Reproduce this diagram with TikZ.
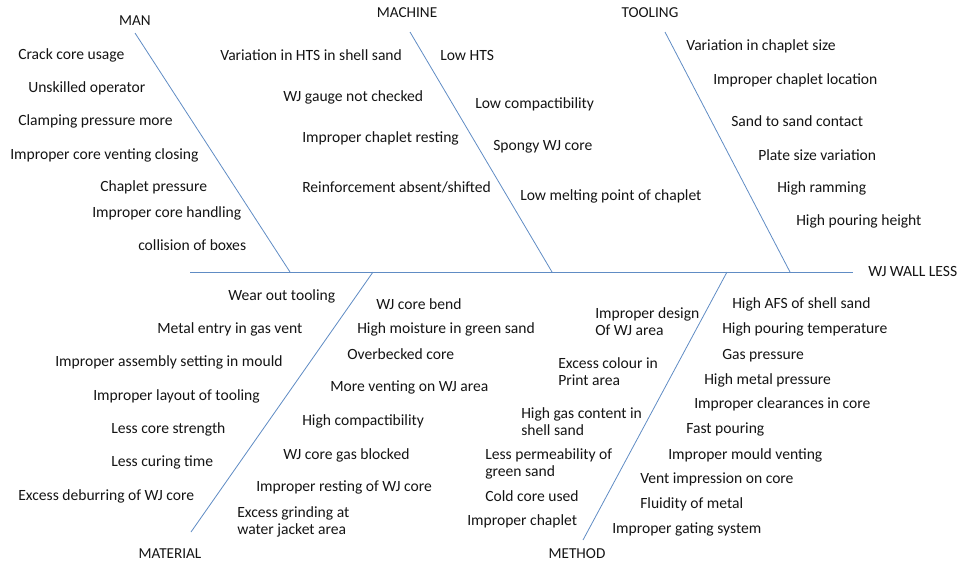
\documentclass[tikz,border=0pt]{standalone}
\usepackage{fontspec}
\setmainfont{Carlito}
\usepackage{xcolor}
\usetikzlibrary{positioning}

\definecolor{bonecol}{RGB}{96,140,196}
\definecolor{txtcol}{RGB}{20,20,20}

\begin{document}
\begin{tikzpicture}[x=0.75pt, y=-0.75pt,
		bone/.style={draw=bonecol, line width=0.6pt},
		cause/.style={anchor=west, inner sep=0pt, align=left, text=txtcol, yshift=-1.1pt,
			font=\fontsize{11.7}{12.75}\selectfont},
		cat/.style={inner sep=0pt, text=txtcol, yshift=-0.6pt, font=\fontsize{11.4}{13}\selectfont}]
		
		% Frame
		\useasboundingbox (0,0) rectangle (960,562);
		
		% Spine and effect
		\coordinate (tail) at (190,272);
		\coordinate (head) at (853,272);
		\node[cause] (effect) at (868,270) {WJ WALL LESS};
		\draw[bone] (tail) -- (head);
		
		% Category labels
		\node[cat] (man) at (135,20) {MAN};
		\node[cat] (machine) at (407,12) {MACHINE};
		\node[cat] (tooling) at (650,12) {TOOLING};
		\node[cat] (material) at (170,553) {MATERIAL};
		\node[cat] (method) at (577,553) {METHOD};
		
		% Bone end points
		\coordinate (manTop) at (135,33);
		\coordinate (manFoot) at (290,272);
		\coordinate (machineTop) at (410,32);
		\coordinate (machineFoot) at (552,272);
		\coordinate (toolingTop) at (665,32);
		\coordinate (toolingFoot) at (790,272);
		\coordinate (materialFoot) at (373,272);
		\coordinate (materialEnd) at (191,532);
		\coordinate (methodFoot) at (727,272);
		\coordinate (methodEnd) at (583,540);
		
		% Bones
		\draw[bone] (manTop) -- (manFoot);
		\draw[bone] (machineTop) -- (machineFoot);
		\draw[bone] (toolingTop) -- (toolingFoot);
		\draw[bone] (materialFoot) -- (materialEnd);
		\draw[bone] (methodFoot) -- (methodEnd);
		
		% Man causes
		\foreach \cx/\cy/\ctext [count=\i] in {
			18/54/{Crack core usage},
			28/87/{Unskilled operator},
			18/120/{Clamping pressure more},
			10/154/{Improper core venting  closing},
			100/186/{Chaplet pressure},
			92/212/{Improper core handling},
			138/244/{collision of boxes}
		}{
			\node[cause] (man\i) at (\cx,\cy) {\ctext};
		}
		
		% Machine causes
		\foreach \cx/\cy/\ctext [count=\i] in {
			220/54/{Variation in HTS in shell sand},
			283/96/{WJ gauge not checked},
			302/137/{Improper chaplet resting},
			302/186/{Reinforcement absent/shifted},
			440/54/{Low HTS},
			475/103/{Low compactibility},
			493/145/{Spongy WJ core},
			520/195/{Low melting point of chaplet}
		}{
			\node[cause] (machine\i) at (\cx,\cy) {\ctext};
		}
		
		% Tooling causes
		\foreach \cx/\cy/\ctext [count=\i] in {
			686/45/{Variation in chaplet size},
			713/79/{Improper chaplet location},
			731/120/{Sand to sand contact},
			758/154/{Plate size variation},
			777/187/{High ramming},
			796/220/{High pouring height}
		}{
			\node[cause] (tooling\i) at (\cx,\cy) {\ctext};
		}
		
		% Material causes
		\foreach \cx/\cy/\ctext [count=\i] in {
			228/295/{Wear out tooling},
			157/328/{Metal entry in gas vent},
			55/361/{Improper assembly setting in mould},
			93/395/{Improper layout of tooling},
			111/428/{Less core strength},
			111/461/{Less curing time},
			18/495/{Excess deburring of WJ core},
			376/303/{WJ core bend},
			357/328/{High moisture in green sand},
			347/353/{Overbecked core},
			330/386/{More venting on WJ area},
			302/420/{High compactibility},
			283/454/{WJ core gas blocked},
			256/486/{Improper resting of WJ core}
		}{
			\node[cause] (material\i) at (\cx,\cy) {\ctext};
		}
		\node[cause] (material15) at (237,520.5) {Excess grinding at\\water jacket area};
		
		% Method causes
		\node[cause] (methodA) at (595,320.5) {Improper design\\Of WJ area};
		\node[cause] (methodB) at (558,370.5) {Excess colour in\\Print area};
		\node[cause] (methodC) at (521,420.5) {High gas content in\\shell sand};
		\node[cause] (methodD) at (485,462.5) {Less permeability of\\green sand};
		\foreach \cx/\cy/\ctext [count=\i] in {
			485/495/{Cold core used},
			467/520/{Improper chaplet},
			732/303/{High AFS of shell sand},
			722/328/{High pouring temperature},
			722/354/{Gas pressure},
			704/379/{High metal pressure},
			694/403/{Improper clearances in core},
			686/428/{Fast pouring},
			668/454/{Improper mould venting},
			640/478/{Vent impression on core},
			640/503/{Fluidity of metal},
			612/528/{Improper gating system}
		}{
			\node[cause] (method\i) at (\cx,\cy) {\ctext};
		}
		
	\end{tikzpicture}
\end{document}
